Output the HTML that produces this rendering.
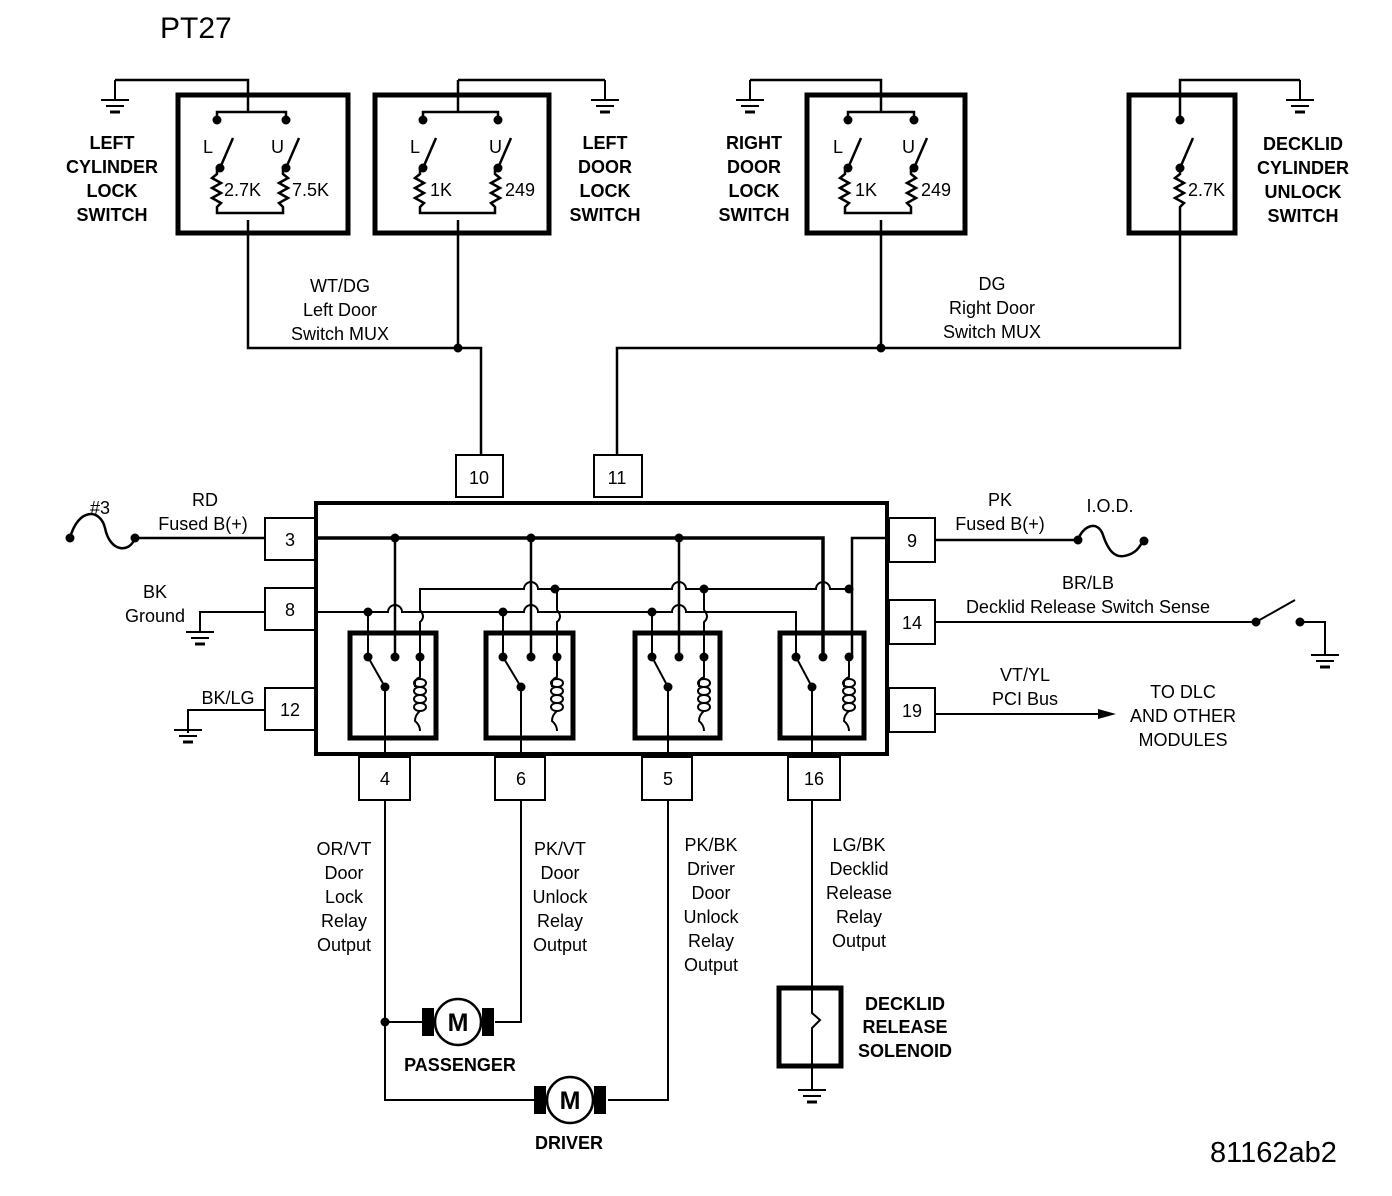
<!DOCTYPE html>
<html><head><meta charset="utf-8"><style>
html,body{margin:0;padding:0;background:#fff}
svg{display:block}
text{font-family:"Liberation Sans",sans-serif;font-size:18px;fill:#000}
.b{font-weight:bold;font-size:17px}
.c{text-anchor:middle}
</style></head><body>
<svg width="1392" height="1196" viewBox="0 0 1392 1196" xmlns="http://www.w3.org/2000/svg">
<defs>
<g id="gnd"><line x1="0" y1="0" x2="0" y2="20" stroke="#000" stroke-width="2"/><line x1="-14" y1="20" x2="14" y2="20" stroke="#000" stroke-width="2"/><line x1="-9" y1="26" x2="9" y2="26" stroke="#000" stroke-width="2"/><line x1="-5" y1="32" x2="5" y2="32" stroke="#000" stroke-width="3"/></g>
<g id="coil" fill="none" stroke="#000" stroke-width="2"><path d="M0,0 V20 q-5,2 -5,6 v4 M-5,30"/>
<path d="M0,22 c-8,0 -8,8 0,8 c8,0 8,-8 0,-8 M0,30 c-8,0 -8,8 0,8 c8,0 8,-8 0,-8 M0,38 c-8,0 -8,8 0,8 c8,0 8,-8 0,-8 M0,46 c-8,0 -8,8 0,8 c8,0 8,-8 0,-8"/>
<path d="M0,54 q-5,4 -5,10 q5,4 5,10"/></g>
</defs>
<g stroke="#000" fill="none" stroke-width="2.5">
<text x="160" y="38" style="font-size:30px" stroke="none">PT27</text>
<rect x="178" y="95" width="170" height="138" stroke-width="5"/>
<rect x="375" y="95" width="174" height="138" stroke-width="5"/>
<rect x="807" y="95" width="158" height="138" stroke-width="5"/>
<rect x="1129" y="95" width="106" height="138" stroke-width="5"/>
<path d="M115,80 H248 V112 M217,120 V112 H286 V120"/>
<path d="M220,168 L233,138 M286,168 L299,138"/>
<path d="M217,168 v6 l-5,4 l9,5 l-9,5 l9,5 l-9,5 l9,5 l-4,4 v6 H283 v-6 l-4,-4 l9,-5 l-9,-5 l9,-5 l-9,-5 l9,-5 l-5,-4 v-6"/>
<path d="M248,220 V348 H481 V455"/>
<path d="M458,80 H605 M458,80 V112 M423,120 V112 H498 V120"/>
<path d="M423,168 L436,138 M498,168 L511,138"/>
<path d="M420,168 v6 l-5,4 l9,5 l-9,5 l9,5 l-9,5 l9,5 l-4,4 v6 H495 v-6 l-4,-4 l9,-5 l-9,-5 l9,-5 l-9,-5 l9,-5 l-5,-4 v-6"/>
<path d="M458,220 V348"/>
<path d="M750,80 H881 V112 M848,120 V112 H914 V120"/>
<path d="M848,168 L861,138 M914,168 L927,138"/>
<path d="M845,168 v6 l-5,4 l9,5 l-9,5 l9,5 l-9,5 l9,5 l-4,4 v6 H911 v-6 l-4,-4 l9,-5 l-9,-5 l9,-5 l-9,-5 l9,-5 l-5,-4 v-6"/>
<path d="M881,220 V348 M617,455 V348 H1180 V233"/>
<path d="M1300,80 H1180 V120 M1180,168 L1193,138 M1180,168 v6 l-5,4 l9,5 l-9,5 l9,5 l-9,5 l9,5 l-4,4 V233"/>
<rect x="316" y="503" width="571" height="251" stroke-width="4"/>
<g stroke-width="2">
<rect x="456" y="455" width="47" height="42"/><rect x="594" y="455" width="48" height="42"/>
<rect x="265" y="518" width="50" height="42"/><rect x="265" y="588" width="50" height="42"/><rect x="265" y="688" width="50" height="42"/>
<rect x="889" y="518" width="46" height="44"/><rect x="889" y="600" width="46" height="44"/><rect x="889" y="688" width="46" height="44"/>
<rect x="359" y="757" width="51" height="43"/><rect x="495" y="757" width="50" height="43"/><rect x="642" y="757" width="50" height="43"/><rect x="788" y="757" width="52" height="43"/>
</g>
<rect x="350" y="633" width="86" height="105" stroke-width="5"/>
<rect x="486" y="633" width="87" height="105" stroke-width="5"/>
<rect x="635" y="633" width="85" height="105" stroke-width="5"/>
<rect x="780" y="633" width="84" height="105" stroke-width="5"/>
<path d="M317,538 H823 V657" stroke-width="3.5"/>
<path d="M395,538 V657 M531,538 V657 M679,538 V657" stroke-width="2.5"/>
<path d="M889,538 H852 V657" stroke-width="2.5"/>
<path d="M420,657 V622 q6,-5 0,-12 V589 H524 a7,7 0 0 1 14,0 H672 a7,7 0 0 1 14,0 H816 a7,7 0 0 1 14,0 H852" stroke-width="2"/>
<path d="M557,657 V622 q6,-5 0,-12 V589 M704,657 V622 q6,-5 0,-12 V589" stroke-width="2"/>
<path d="M317,612 H388 a7,7 0 0 1 14,0 H524 a7,7 0 0 1 14,0 H672 a7,7 0 0 1 14,0 H796 V657" stroke-width="2"/>
<path d="M368,612 V657 M503,612 V657 M652,612 V657" stroke-width="2"/>
<path d="M368,657 L385,687 V757 M503,657 L521,687 V757 M652,657 L668,687 V757 M796,657 L812,687 V757" stroke-width="2"/>
<use href="#coil" x="420" y="657"/><use href="#coil" x="557" y="657"/><use href="#coil" x="704" y="657"/><use href="#coil" x="849" y="657"/>
<path d="M70,538 c8,-30 30,-30 35,-10 c5,25 25,25 30,10 H265" stroke-width="2.5"/>
<path d="M265,612 H200 V630 M265,710 H188 V733" stroke-width="2"/>
<path d="M935,540 H1078 c5,-15 20,-20 25,-5 c5,15 12,25 25,20 c10,-3 12,-10 16,-15" stroke-width="2.5"/>
<path d="M935,622 H1256 L1295,600 M1300,622 H1325 V655" stroke-width="2"/>
<path d="M935,714 H1100" stroke-width="2"/>
<path d="M385,800 V1100 H535 M608,1100 H668 V800 M385,1022 H422 M495,1022 H521 V800" stroke-width="2"/>
<path d="M812,800 V987 M812,1067 V1090" stroke-width="2"/>
<rect x="779" y="988" width="62" height="78" stroke-width="5"/>
<path d="M812,988 V1013 l8,7 l-8,8 V1066" stroke-width="2"/>
<circle cx="458" cy="1022" r="23"/><circle cx="570" cy="1100" r="23"/>
</g>
<g fill="#000">
<rect x="422" y="1008" width="12" height="28"/><rect x="482" y="1008" width="12" height="28"/>
<rect x="534" y="1086" width="12" height="28"/><rect x="594" y="1086" width="12" height="28"/>
<path d="M1098,709 L1116,714 L1098,719 Z"/>
<circle cx="217" cy="120" r="4.5"/><circle cx="286" cy="120" r="4.5"/><circle cx="220" cy="168" r="4.5"/><circle cx="286" cy="168" r="4.5"/>
<circle cx="423" cy="120" r="4.5"/><circle cx="498" cy="120" r="4.5"/><circle cx="423" cy="168" r="4.5"/><circle cx="498" cy="168" r="4.5"/>
<circle cx="848" cy="120" r="4.5"/><circle cx="914" cy="120" r="4.5"/><circle cx="848" cy="168" r="4.5"/><circle cx="914" cy="168" r="4.5"/>
<circle cx="1180" cy="120" r="4.5"/><circle cx="1180" cy="168" r="4.5"/>
<circle cx="458" cy="348" r="4.5"/><circle cx="881" cy="348" r="4.5"/>
<circle cx="395" cy="538" r="4.5"/><circle cx="531" cy="538" r="4.5"/><circle cx="679" cy="538" r="4.5"/>
<circle cx="555" cy="589" r="4.5"/><circle cx="704" cy="589" r="4.5"/><circle cx="849" cy="589" r="4.5"/>
<circle cx="368" cy="612" r="4.5"/><circle cx="503" cy="612" r="4.5"/><circle cx="652" cy="612" r="4.5"/>
<circle cx="368" cy="657" r="4.5"/><circle cx="395" cy="657" r="4.5"/><circle cx="420" cy="657" r="4.5"/><circle cx="385" cy="687" r="4.5"/>
<circle cx="503" cy="657" r="4.5"/><circle cx="531" cy="657" r="4.5"/><circle cx="557" cy="657" r="4.5"/><circle cx="521" cy="687" r="4.5"/>
<circle cx="652" cy="657" r="4.5"/><circle cx="679" cy="657" r="4.5"/><circle cx="704" cy="657" r="4.5"/><circle cx="668" cy="687" r="4.5"/>
<circle cx="796" cy="657" r="4.5"/><circle cx="823" cy="657" r="4.5"/><circle cx="849" cy="657" r="4.5"/><circle cx="812" cy="687" r="4.5"/>
<circle cx="70" cy="538" r="4.5"/><circle cx="135" cy="538" r="4.5"/><circle cx="1078" cy="540" r="4.5"/><circle cx="1144" cy="541" r="4.5"/>
<circle cx="1256" cy="622" r="4.5"/><circle cx="1300" cy="622" r="4.5"/><circle cx="385" cy="1022" r="4.5"/>
</g>
<use href="#gnd" x="115" y="80"/><use href="#gnd" x="605" y="80"/><use href="#gnd" x="750" y="80"/><use href="#gnd" x="1300" y="80"/>
<use href="#gnd" x="200" y="612"/><use href="#gnd" x="188" y="710"/><use href="#gnd" x="1325" y="635"/><use href="#gnd" x="812" y="1070"/>
<text x="203" y="153">L</text><text x="271" y="153">U</text><text x="224" y="196">2.7K</text><text x="292" y="196">7.5K</text>
<text x="410" y="153">L</text><text x="489" y="153">U</text><text x="430" y="196">1K</text><text x="505" y="196">249</text>
<text x="833" y="153">L</text><text x="902" y="153">U</text><text x="855" y="196">1K</text><text x="921" y="196">249</text>
<text x="1188" y="196">2.7K</text>
<text x="458" y="1031" class="c" style="font-weight:bold;font-size:25px">M</text>
<text x="570" y="1109" class="c" style="font-weight:bold;font-size:25px">M</text>
<g class="b c"><text x="112" y="149">LEFT</text><text x="112" y="173">CYLINDER</text><text x="112" y="197">LOCK</text><text x="112" y="221">SWITCH</text>
<text x="605" y="149">LEFT</text><text x="605" y="173">DOOR</text><text x="605" y="197">LOCK</text><text x="605" y="221">SWITCH</text>
<text x="754" y="149">RIGHT</text><text x="754" y="173">DOOR</text><text x="754" y="197">LOCK</text><text x="754" y="221">SWITCH</text>
<text x="1303" y="150">DECKLID</text><text x="1303" y="174">CYLINDER</text><text x="1303" y="198">UNLOCK</text><text x="1303" y="222">SWITCH</text>
<text x="905" y="1010">DECKLID</text><text x="905" y="1033">RELEASE</text><text x="905" y="1057">SOLENOID</text>
<text x="460" y="1071">PASSENGER</text><text x="569" y="1149">DRIVER</text></g>
<g class="c"><text x="340" y="292">WT/DG</text><text x="340" y="316">Left Door</text><text x="340" y="340">Switch MUX</text>
<text x="992" y="290">DG</text><text x="992" y="314">Right Door</text><text x="992" y="338">Switch MUX</text>
<text x="479" y="484">10</text><text x="617" y="484">11</text><text x="290" y="546">3</text><text x="290" y="616">8</text><text x="290" y="716">12</text>
<text x="912" y="547">9</text><text x="912" y="629">14</text><text x="912" y="717">19</text>
<text x="385" y="785">4</text><text x="521" y="785">6</text><text x="668" y="785">5</text><text x="814" y="785">16</text>
<text x="100" y="514">#3</text><text x="205" y="506">RD</text><text x="203" y="530">Fused B(+)</text>
<text x="155" y="598">BK</text><text x="155" y="622">Ground</text><text x="228" y="704">BK/LG</text>
<text x="1000" y="506">PK</text><text x="1000" y="530">Fused B(+)</text><text x="1110" y="512">I.O.D.</text>
<text x="1088" y="589">BR/LB</text><text x="1088" y="613">Decklid Release Switch Sense</text>
<text x="1025" y="681">VT/YL</text><text x="1025" y="705">PCI Bus</text>
<text x="1183" y="698">TO DLC</text><text x="1183" y="722">AND OTHER</text><text x="1183" y="746">MODULES</text>
<text x="344" y="855">OR/VT</text><text x="344" y="879">Door</text><text x="344" y="903">Lock</text><text x="344" y="927">Relay</text><text x="344" y="951">Output</text>
<text x="560" y="855">PK/VT</text><text x="560" y="879">Door</text><text x="560" y="903">Unlock</text><text x="560" y="927">Relay</text><text x="560" y="951">Output</text>
<text x="711" y="851">PK/BK</text><text x="711" y="875">Driver</text><text x="711" y="899">Door</text><text x="711" y="923">Unlock</text><text x="711" y="947">Relay</text><text x="711" y="971">Output</text>
<text x="859" y="851">LG/BK</text><text x="859" y="875">Decklid</text><text x="859" y="899">Release</text><text x="859" y="923">Relay</text><text x="859" y="947">Output</text></g>
<text x="1210" y="1162" style="font-size:29px">81162ab2</text>
</svg>
</body></html>
